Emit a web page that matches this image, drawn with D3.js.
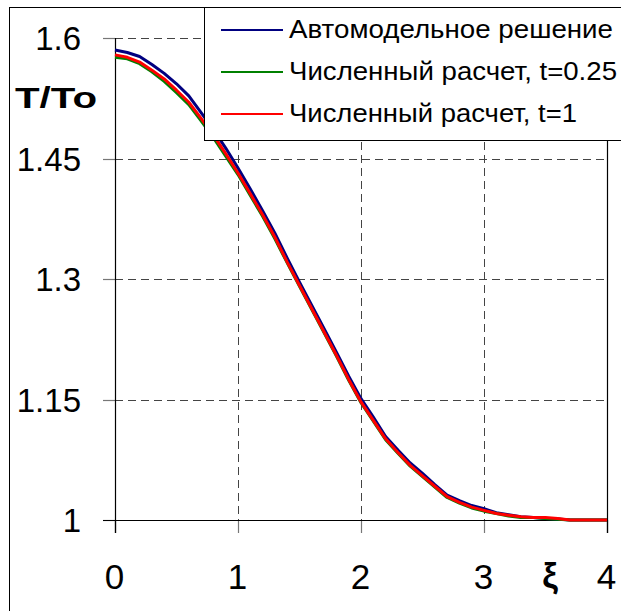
<!DOCTYPE html>
<html>
<head>
<meta charset="utf-8">
<script src="https://cdn.jsdelivr.net/npm/d3@7"></script>
<style>
  html, body { margin: 0; padding: 0; background: #fff; }
  svg { display: block; font-family: "Liberation Sans", Arial, sans-serif; }
</style>
</head>
<body>
<svg id="chart" width="621" height="611"></svg>
<script>
// Dimensionless coordinate ξ and temperature profiles T/To
const xi = [0, 0.1, 0.2, 0.3, 0.4, 0.5, 0.6, 0.7, 0.8, 0.9, 1.0, 1.1, 1.2, 1.3, 1.4,
            1.5, 1.6, 1.7, 1.8, 1.9, 2.0, 2.1, 2.2, 2.3, 2.4, 2.5, 2.6, 2.7, 2.8, 2.9,
            3.0, 3.1, 3.2, 3.3, 3.4, 3.5, 3.6, 3.7, 3.8, 3.9, 4.0];

// Self-similar solution
const selfSimilar = [1.585, 1.582, 1.577, 1.567, 1.556, 1.543, 1.528, 1.507, 1.486, 1.463,
                     1.438, 1.412, 1.385, 1.357, 1.326, 1.296, 1.267, 1.238, 1.209, 1.179,
                     1.151, 1.128, 1.104, 1.087, 1.071, 1.058, 1.044, 1.031, 1.024, 1.018,
                     1.014, 1.009, 1.0065, 1.004, 1.003, 1.002, 1.0012, 1.0, 1.0, 1.0, 1.0];

// Numerical calculation, t = 0.25
const numT025 = [1.576, 1.574, 1.568, 1.558, 1.546, 1.532, 1.517, 1.497, 1.476, 1.453,
                 1.430, 1.404, 1.378, 1.350, 1.320, 1.291, 1.262, 1.233, 1.204, 1.174,
                 1.146, 1.123, 1.100, 1.083, 1.067, 1.054, 1.041, 1.028, 1.021, 1.015,
                 1.011, 1.008, 1.005, 1.003, 1.003, 1.002, 1.001, 1.0, 1.0, 1.0, 1.0];

// Numerical calculation, t = 1
const numT1 = [1.579, 1.576, 1.570, 1.560, 1.549, 1.535, 1.520, 1.500, 1.479, 1.456,
               1.432, 1.406, 1.380, 1.352, 1.321, 1.292, 1.263, 1.234, 1.205, 1.175,
               1.147, 1.124, 1.101, 1.084, 1.068, 1.055, 1.042, 1.029, 1.022, 1.016,
               1.012, 1.008, 1.006, 1.004, 1.003, 1.003, 1.002, 1.0, 1.0, 1.0, 1.0];

const xTicks = [0, 1, 2, 3, 4];
const yTicks = [1, 1.15, 1.3, 1.45, 1.6];
const yTickLabels = ["1", "1.15", "1.3", "1.45", "1.6"];

const seriesNames = ["Автомодельное решение", "Численный расчет, t=0.25", "Численный расчет, t=1"];
const seriesColors = ["#000080", "#008000", "#ff0000"];
const seriesValues = [selfSimilar, numT025, numT1];

const svg = d3.select("#chart");

const x = d3.scaleLinear().domain([0, 4]).range([115, 607]);
const y = d3.scaleLinear().domain([1, 1.6]).range([520, 38]);

// outer frame
svg.append("rect")
  .attr("x", 9.5).attr("y", 7.5).attr("width", 700).attr("height", 700)
  .attr("fill", "#fff").attr("stroke", "#000").attr("stroke-width", 1);

// horizontal dashed grid
svg.append("g").selectAll("line")
  .data(yTicks.filter(d => d > 1))
  .join("line")
  .attr("x1", x(0)).attr("x2", x(4))
  .attr("y1", d => Math.round(y(d)) + 0.5).attr("y2", d => Math.round(y(d)) + 0.5)
  .attr("stroke", "#444").attr("stroke-width", 1).attr("stroke-dasharray", "8,5");

// vertical dashed grid
svg.append("g").selectAll("line")
  .data(xTicks.filter(d => d > 0 && d < 4))
  .join("line")
  .attr("x1", d => Math.round(x(d)) + 0.5).attr("x2", d => Math.round(x(d)) + 0.5)
  .attr("y1", y(1.6)).attr("y2", y(1))
  .attr("stroke", "#444").attr("stroke-width", 1).attr("stroke-dasharray", "8,5");

// y axis ticks and labels
const yAxis = svg.append("g");
yAxis.selectAll("line")
  .data(yTicks)
  .join("line")
  .attr("x1", 103).attr("x2", x(0))
  .attr("y1", d => Math.round(y(d)) + 0.5).attr("y2", d => Math.round(y(d)) + 0.5)
  .attr("stroke", "#777").attr("stroke-width", 1.2);
yAxis.selectAll("text")
  .data(yTicks)
  .join("text")
  .attr("x", 81).attr("y", d => y(d) + 12)
  .attr("text-anchor", "end")
  .attr("font-size", 33)
  .attr("fill", "#000")
  .text((d, i) => yTickLabels[i]);

// x axis ticks and labels
const xAxis = svg.append("g");
xAxis.selectAll("line")
  .data(xTicks)
  .join("line")
  .attr("x1", d => Math.round(x(d)) + 0.5).attr("x2", d => Math.round(x(d)) + 0.5)
  .attr("y1", y(1)).attr("y2", y(1) + 13)
  .attr("stroke", d => (d === 0 || d === 4) ? "#000" : "#777").attr("stroke-width", 1.2);
xAxis.selectAll("text")
  .data(xTicks)
  .join("text")
  .attr("x", d => x(d) - 0.5).attr("y", 589)
  .attr("text-anchor", "middle")
  .attr("font-size", 35)
  .attr("fill", "#000")
  .text(d => d3.format("d")(d));

// axis lines and right border
svg.append("line")
  .attr("x1", 115.5).attr("x2", 115.5).attr("y1", y(1.6)).attr("y2", y(1) + 13)
  .attr("stroke", "#000").attr("stroke-width", 1.2);
svg.append("line")
  .attr("x1", 607.5).attr("x2", 607.5).attr("y1", y(1.6)).attr("y2", y(1) + 13)
  .attr("stroke", "#000").attr("stroke-width", 1.2);
svg.append("line")
  .attr("x1", 103).attr("x2", x(4)).attr("y1", 520.5).attr("y2", 520.5)
  .attr("stroke", "#000").attr("stroke-width", 1.2);

// curves
const line = d3.line()
  .x((d, i) => x(xi[i]))
  .y(d => y(d));

svg.append("g").selectAll("path")
  .data(seriesValues)
  .join("path")
  .attr("d", d => line(d))
  .attr("fill", "none")
  .attr("stroke", (d, i) => seriesColors[i])
  .attr("stroke-width", 3)
  .attr("stroke-linejoin", "round");

// axis titles
svg.append("text")
  .attr("x", 15).attr("y", 108)
  .attr("font-size", 30).attr("font-weight", "bold")
  .attr("textLength", 82).attr("lengthAdjust", "spacingAndGlyphs")
  .text("T/To");
svg.append("text")
  .attr("x", 550).attr("y", 588)
  .attr("text-anchor", "middle")
  .attr("font-size", 35).attr("font-weight", "bold")
  .text("ξ");

// legend
const legend = svg.append("g");
legend.append("rect")
  .attr("x", 204.5).attr("y", 7.5).attr("width", 500).attr("height", 133)
  .attr("fill", "#fff").attr("stroke", "#000").attr("stroke-width", 1);

const legendY = [30, 72, 114];
const legendLen = [324, 328, 288];
const items = legend.selectAll("g.item")
  .data(seriesNames)
  .join("g").attr("class", "item");
items.append("line")
  .attr("x1", 221).attr("x2", 283)
  .attr("y1", (d, i) => legendY[i]).attr("y2", (d, i) => legendY[i])
  .attr("stroke", (d, i) => seriesColors[i]).attr("stroke-width", 2.2);
items.append("text")
  .attr("x", 289).attr("y", (d, i) => legendY[i] + 8)
  .attr("font-size", 26)
  .attr("textLength", (d, i) => legendLen[i]).attr("lengthAdjust", "spacingAndGlyphs")
  .text(d => d);
</script>
</body>
</html>
